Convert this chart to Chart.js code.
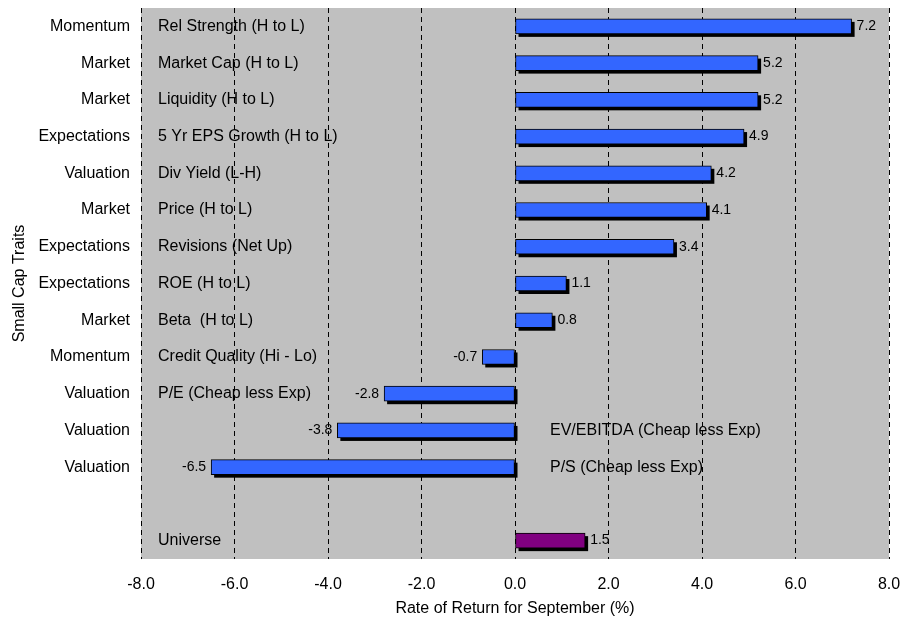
<!DOCTYPE html>
<html>
<head>
<meta charset="utf-8">
<script src="https://cdn.jsdelivr.net/npm/chart.js@4/dist/chart.umd.min.js"></script>
<style>
  html, body { margin: 0; padding: 0; background: #fff; }
</style>
</head>
<body>
<canvas id="c" width="914" height="621"></canvas>
<script>
// Trait family shown on the left axis (blank rows carry no family)
const groups = [
  'Momentum', 'Market', 'Market', 'Expectations', 'Valuation', 'Market',
  'Expectations', 'Expectations', 'Market', 'Momentum', 'Valuation',
  'Valuation', 'Valuation', '', ''
];

// Trait names written inside the plot
const traits = [
  'Rel Strength (H to L)', 'Market Cap (H to L)', 'Liquidity (H to L)',
  '5 Yr EPS Growth (H to L)', 'Div Yield (L-H)', 'Price (H to L)',
  'Revisions (Net Up)', 'ROE (H to L)', 'Beta  (H to L)',
  'Credit Quality (Hi - Lo)', 'P/E (Cheap less Exp)',
  'EV/EBITDA (Cheap less Exp)', 'P/S (Cheap less Exp)', '', 'Universe'
];

// September return, percent
const returns = [7.2, 5.2, 5.2, 4.9, 4.2, 4.1, 3.4, 1.1, 0.8, -0.7, -2.8, -3.8, -6.5, null, 1.5];

// Return axis range and step
const xMin = -8, xMax = 8, xStep = 2;

const FONT = '"Liberation Sans", Arial, Helvetica, sans-serif';
const barColors = traits.map(t => t === 'Universe' ? '#800080' : '#3366FF');

// Grey plot backdrop plus the trait names (grid lines are drawn over them)
const plotBackdrop = {
  id: 'plotBackdrop',
  beforeDraw(chart) {
    const { ctx, chartArea: a, scales } = chart;
    ctx.save();
    ctx.fillStyle = '#C0C0C0';
    ctx.fillRect(a.left, a.top, a.right - a.left, a.bottom - a.top);
    ctx.font = '16px ' + FONT;
    ctx.fillStyle = '#000';
    ctx.textBaseline = 'middle';
    ctx.textAlign = 'left';
    const zero = scales.x.getPixelForValue(0);
    traits.forEach((t, i) => {
      if (!t) return;
      const cy = scales.y.getPixelForValue(i);
      let tx = a.left + 17;
      const w = ctx.measureText(t).width;
      const v = returns[i];
      // long negative bars would cover the name: move it right of zero
      if (v != null && v < 0 && scales.x.getPixelForValue(v) < tx + w + 8) {
        tx = zero + 35;
      }
      ctx.fillText(t, tx, cy);
    });
    ctx.restore();
  }
};

// Solid black drop shadow behind each bar
const barShadow = {
  id: 'barShadow',
  beforeDatasetsDraw(chart) {
    const ctx = chart.ctx;
    const meta = chart.getDatasetMeta(0);
    ctx.save();
    ctx.fillStyle = '#000';
    meta.data.forEach((bar, i) => {
      if (returns[i] == null) return;
      const { x, y, base, height } = bar.getProps(['x', 'y', 'base', 'height'], true);
      const l = Math.min(x, base), r = Math.max(x, base);
      ctx.fillRect(l + 3, y - height / 2 + 3, r - l, height);
    });
    ctx.restore();
  }
};

// Value printed at the end of each bar
const valueLabels = {
  id: 'valueLabels',
  afterDatasetsDraw(chart) {
    const ctx = chart.ctx;
    const meta = chart.getDatasetMeta(0);
    ctx.save();
    ctx.font = '14px ' + FONT;
    ctx.fillStyle = '#000';
    ctx.textBaseline = 'middle';
    meta.data.forEach((bar, i) => {
      const v = returns[i];
      if (v == null) return;
      const { x, y } = bar.getProps(['x', 'y'], true);
      if (v >= 0) {
        ctx.textAlign = 'left';
        ctx.fillText(v.toFixed(1), x + 5, y);
      } else {
        ctx.textAlign = 'right';
        ctx.fillText(v.toFixed(1), x - 5, y);
      }
    });
    ctx.restore();
  }
};

new Chart(document.getElementById('c'), {
  type: 'bar',
  data: {
    labels: groups,
    datasets: [{
      data: returns,
      backgroundColor: barColors,
      borderColor: '#000',
      borderWidth: 1,
      borderSkipped: false,
      barThickness: 15
    }]
  },
  options: {
    indexAxis: 'y',
    responsive: false,
    animation: false,
    layout: { padding: { top: 8, right: 25, left: 0, bottom: 0 } },
    plugins: {
      legend: { display: false },
      tooltip: { enabled: false }
    },
    scales: {
      x: {
        type: 'linear',
        min: xMin,
        max: xMax,
        afterFit(scale) {
          scale.height = 62;
          scale.paddingLeft = 0;
          scale.paddingRight = 0;
        },
        ticks: {
          stepSize: xStep,
          padding: 16,
          color: '#000',
          font: { family: FONT, size: 16 },
          callback: v => Number(v).toFixed(1)
        },
        grid: { color: '#000', lineWidth: 1, drawTicks: false },
        border: { display: false, dash: [5, 4] },
        title: {
          display: true,
          text: 'Rate of Return for September (%)',
          color: '#000',
          font: { family: FONT, size: 16 },
          padding: { top: 0, bottom: 3 }
        }
      },
      y: {
        afterFit(scale) {
          scale.width = 141;
          scale.paddingTop = 0;
          scale.paddingBottom = 0;
        },
        ticks: {
          autoSkip: false,
          padding: 11,
          color: '#000',
          font: { family: FONT, size: 16 }
        },
        grid: { display: false, drawTicks: false },
        border: { display: false },
        title: {
          display: true,
          text: 'Small Cap Traits',
          color: '#000',
          font: { family: FONT, size: 16 },
          padding: { top: 10, bottom: 0 }
        }
      }
    }
  },
  plugins: [plotBackdrop, barShadow, valueLabels]
});
</script>
</body>
</html>
